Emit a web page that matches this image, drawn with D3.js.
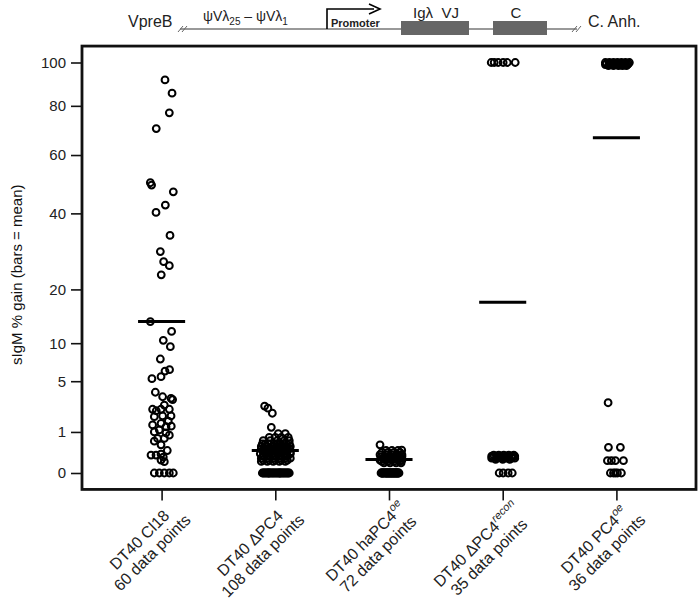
<!DOCTYPE html>
<html><head><meta charset="utf-8">
<script src="https://cdn.jsdelivr.net/npm/d3@7"></script>
<style>
body{margin:0;background:#fff}
svg{display:block;font-family:"Liberation Sans",Arial,sans-serif}
</style>
</head><body>
<svg id="c" width="700" height="601"></svg>
<script>
// ---------- data ----------
const categories = [1, 2, 3, 4, 5];
const labelLine1 = [["DT40 Cl18", ""], ["DT40 \u0394PC4", ""], ["DT40 haPC4", "oe"], ["DT40 \u0394PC4", "recon"], ["DT40 PC4", "oe"]];
const labelLine2 = ["60 data points", "108 data points", "72 data points", "35 data points", "36 data points"];
const yTicks = [0, 1, 5, 10, 20, 40, 60, 80, 100];
const means = [13.6, 0.3, 0.11, 17.3, 66.7];

// [value, horizontal jitter in category units]
const cl18 = [[91.7,0.030],[85.6,0.092],[77,0.068],[70.4,-0.047],[50,-0.099],[49.2,-0.088],[46.9,0.103],[42.6,0.033],[40.3,-0.049],[33.5,0.074],[29.1,-0.011],[26.5,0.018],[25.5,0.068],[23.3,-0.003],[13.6,-0.099],[11.9,0.088],[10.45,0.015],[9.47,0.077],[7.71,-0.011],[6.33,0.070],[6.17,0.030],[5.51,-0.005],[5.28,-0.085],[3.87,-0.055],[3.45,0.009],[3.31,0.083],[3.2,0.097],[2.74,0.024],[2.41,-0.079],[2.41,-0.005],[2.41,0.068],[2.3,-0.047],[1.93,0.009],[1.93,0.083],[1.88,-0.064],[1.6,0.059],[1.46,-0.005],[1.37,-0.079],[1.3,0.085],[1.27,0.039],[1.10,-0.020],[1.0,-0.064],[0.96,0.039],[0.85,0.068],[0.71,-0.035],[0.71,0.024],[0.6,-0.064],[0.47,-0.005],[0.3,0.050],[0.21,-0.005],[0.19,-0.093],[0.19,-0.049],[0.15,0.015],[0.10,-0.005],[0.076,0.024],[0,-0.064],[0,-0.020],[0,0.024],[0,0.068],[0,0.103]];

const dPC4 = [[2.66,-0.094],[2.49,-0.065],[2.12,-0.026],[1.24,-0.035],
[0.92,0.026],[0.92,0.088],
[0.75,-0.053],[0.75,0],[0.75,0.053],[0.75,0.114],
[0.62,-0.106],[0.62,-0.044],[0.62,0.018],[0.62,0.079],[0.62,0.123],
[0.5,-0.114],[0.5,-0.062],[0.5,-0.009],[0.5,0.044],[0.5,0.097],[0.5,-0.088],[0.5,0.018],[0.5,0.123],
[0.42,-0.088],[0.42,-0.026],[0.42,0.035],[0.42,0.088],[0.42,0.132],[0.42,-0.123],[0.42,0.009],[0.42,0.062],
[0.35,-0.123],[0.35,-0.070],[0.35,-0.018],[0.35,0.035],[0.35,0.079],[0.35,0.123],[0.35,-0.097],[0.35,0.009],[0.35,0.106],
[0.3,-0.114],[0.3,-0.035],[0.3,0.053],
[0.28,-0.106],[0.28,-0.053],[0.28,0],[0.28,0.053],[0.28,0.106],
[0.25,-0.079],[0.25,0.026],[0.25,0.132],
[0.22,-0.132],[0.22,-0.079],[0.22,-0.026],[0.22,0.026],[0.22,0.079],[0.22,0.132],
[0.17,-0.106],[0.17,-0.053],[0.17,0],[0.17,0.053],[0.17,0.106],
[0.13,-0.123],[0.13,-0.070],[0.13,-0.018],[0.13,0.035],[0.13,0.088],[0.13,0.132],
[0.1,-0.106],[0.1,-0.053],[0.1,0],[0.1,0.053],[0.1,0.106],
[0.08,-0.123],[0.08,-0.070],[0.08,-0.018],[0.08,0.035],[0.08,0.088],
[0,-0.114],[0,-0.106],[0,-0.097],[0,-0.088],[0,-0.079],[0,-0.070],[0,-0.062],[0,-0.053],[0,-0.044],[0,-0.035],[0,-0.026],[0,-0.018],[0,-0.009],[0,0],[0,0.009],[0,0.018],[0,0.026],[0,0.035],[0,0.044],[0,0.053],[0,0.062],[0,0.070],[0,0.079],[0,0.088],[0,0.097],[0,0.106],[0,0.114],[0,0.123],[0,-0.057],[0,0.040]];

const haPC4oe = [[0.47,-0.079],[0.31,0.112],
[0.3,-0.026],[0.3,0.026],[0.3,0.079],
[0.25,-0.062],[0.25,-0.009],[0.25,0.044],[0.25,0.097],
[0.2,-0.079],[0.2,-0.026],[0.2,0.026],[0.2,0.070],[0.2,0.114],
[0.16,-0.070],[0.16,-0.018],[0.16,0.035],[0.16,0.088],[0.16,0.114],
[0.13,-0.053],[0.13,0],[0.13,0.053],[0.13,0.106],
[0.1,-0.079],[0.1,-0.026],[0.1,0.026],[0.1,0.079],[0.1,0.114],
[0.08,-0.062],[0.08,-0.009],[0.08,0.044],[0.08,0.097],
[0.06,-0.044],[0.06,0.009],[0.06,0.062],[0.06,0.106],
[0,-0.070],[0,-0.062],[0,-0.053],[0,-0.044],[0,-0.035],[0,-0.026],[0,-0.018],[0,-0.009],[0,0],[0,0.009],[0,0.018],[0,0.026],[0,0.035],[0,0.044],[0,0.053],[0,0.062],[0,0.070],[0,0.079],[0,0.088],
[0,-0.066],[0,-0.048],[0,-0.031],[0,-0.013],[0,0.004],[0,0.022],[0,0.040],[0,0.057],[0,0.075],[0,0.084],[0,-0.057],[0,-0.022],[0,0.013],[0,0.048],[0,0.066],[0,0.031],[0,-0.004]];

const dPC4recon = [[100,-0.101],[100,-0.075],[100,-0.040],[100,0.004],[100,0.040],[100,0.110],
[0.19,-0.079],[0.19,-0.035],[0.19,0.009],[0.19,0.053],[0.19,0.097],
[0.17,-0.097],[0.17,-0.053],[0.17,-0.009],[0.17,0.035],[0.17,0.079],[0.17,0.106],
[0.15,-0.088],[0.15,-0.044],[0.15,0],[0.15,0.044],[0.15,0.088],
[0.13,-0.097],[0.13,-0.053],[0.13,-0.009],[0.13,0.035],[0.13,0.079],[0.13,0.106],
[0.11,-0.062],[0.11,0],[0.11,0.062],
[0,-0.031],[0,0.004],[0,0.048],[0,0.084]];

const PC4oe = [[100,-0.097],[100,-0.062],[100,-0.026],[100,0.009],[100,0.044],[100,0.079],[100,0.114],
[99.5,-0.088],[99.5,-0.044],[99.5,0],[99.5,0.035],[99.5,0.070],[99.5,0.106],
[99,-0.097],[99,-0.053],[99,-0.018],[99,0.026],[99,0.062],[99,0.097],
[98.5,-0.070],[98.5,-0.026],[98.5,0.018],[98.5,0.053],[98.5,0.088],
[2.93,-0.073],[0.39,-0.070],[0.39,0.035],
[0.09,-0.079],[0.09,-0.009],[0.09,0.062],[0.09,-0.044],
[0,-0.053],[0,-0.026],[0,0.009],[0,0.044],[0,-0.009]];

const groups = [cl18, dPC4, haPC4oe, dPC4recon, PC4oe];

// ---------- drawing ----------
const svg = d3.select("#c");
const plotLeft = 82, plotRight = 696;
const x = d3.scaleLinear().domain([0.3, 5.7]).range([plotLeft, plotRight]);
const y = d3.scaleSqrt().domain([0, 100]).range([473, 62.5]);
const span = y(0) - y(100);
const plotTop = y(100) - 0.04 * span, plotBottom = y(0) + 0.04 * span;
const ink = "#111";

// points
groups.forEach((g, i) => {
  svg.append("g").selectAll("circle").data(g).join("circle")
    .attr("cx", d => x(categories[i] + d[1]))
    .attr("cy", d => y(d[0]))
    .attr("r", 3.4)
    .attr("fill", "none")
    .attr("stroke", "#000")
    .attr("stroke-width", 2);
});

// mean bars
svg.append("g").selectAll("line").data(means).join("line")
  .attr("x1", (d, i) => x(categories[i] - 0.207))
  .attr("x2", (d, i) => x(categories[i] + 0.207))
  .attr("y1", d => y(d)).attr("y2", d => y(d))
  .attr("stroke", "#000").attr("stroke-width", 3);

// frame
svg.append("rect").attr("x", plotLeft).attr("y", plotTop)
  .attr("width", plotRight - plotLeft).attr("height", plotBottom - plotTop)
  .attr("fill", "none").attr("stroke", ink).attr("stroke-width", 2.8);

// y axis
const ya = svg.append("g").attr("transform", `translate(${plotLeft},0)`)
  .call(d3.axisLeft(y).tickValues(yTicks).tickSize(11).tickPadding(5).tickFormat(d3.format("d")));
ya.select(".domain").remove();
ya.selectAll(".tick line").attr("stroke", ink).attr("stroke-width", 1.6);
ya.selectAll(".tick text").attr("font-size", 15).attr("fill", "#222")
  .attr("font-family", "'Liberation Sans',Arial,sans-serif");

// x axis
const xa = svg.append("g").attr("transform", `translate(0,${plotBottom})`)
  .call(d3.axisBottom(x).tickValues(categories).tickSize(11).tickFormat(""));
xa.select(".domain").remove();
xa.selectAll(".tick line").attr("stroke", ink).attr("stroke-width", 1.6);

// x labels (rotated, two lines, centred on each other)
categories.forEach((c, i) => {
  const g = svg.append("g")
    .attr("transform", `translate(${x(c) + 30},${521}) rotate(-45)`)
    .attr("font-size", 16).attr("fill", "#222");
  const t1 = g.append("text").attr("y", -18).attr("text-anchor", "middle");
  t1.append("tspan").text(labelLine1[i][0]);
  if (labelLine1[i][1]) {
    t1.append("tspan").attr("font-size", 11).attr("font-style", "italic")
      .attr("dy", -7).text(labelLine1[i][1]);
  }
  const t2 = g.append("text").attr("y", 0).attr("text-anchor", "middle").text(labelLine2[i]);
  const w = Math.max(t1.node().getComputedTextLength(), t2.node().getComputedTextLength());
  t1.attr("x", -w / 2); t2.attr("x", -w / 2);
});

// y title
svg.append("text")
  .attr("transform", `translate(22,${(plotTop + plotBottom) / 2 + 7}) rotate(-90)`)
  .attr("text-anchor", "middle").attr("font-size", 15).attr("fill", "#111")
  .text("sIgM % gain (bars = mean)");

// ---------- gene diagram ----------
const dg = svg.append("g").attr("fill", "#222");
const lineY = 29;
dg.append("line").attr("x1", 180).attr("x2", 577).attr("y1", lineY).attr("y2", lineY)
  .attr("stroke", "#777").attr("stroke-width", 1.3);
[178, 572].forEach(hx => {
  [0, 4].forEach(o => dg.append("line")
    .attr("x1", hx + o).attr("y1", lineY + 3).attr("x2", hx + o + 5).attr("y2", lineY - 3)
    .attr("stroke", "#666").attr("stroke-width", 1));
});
dg.append("text").attr("x", 128).attr("y", 27).attr("font-size", 16).text("VpreB");
dg.append("text").attr("x", 588).attr("y", 27).attr("font-size", 16).text("C. Anh.");
const psi = dg.append("text").attr("x", 203).attr("y", 21).attr("font-size", 14);
psi.append("tspan").text("\u03C8V\u03BB");
psi.append("tspan").attr("font-size", 10).attr("dy", 4).text("25");
psi.append("tspan").attr("dy", -4).text(" \u2013 \u03C8V\u03BB");
psi.append("tspan").attr("font-size", 10).attr("dy", 4).text("1");
// promoter arrow
dg.append("path").attr("d", `M327,${lineY} V9 H374`).attr("fill", "none")
  .attr("stroke", "#000").attr("stroke-width", 1.6);
dg.append("path").attr("d", "M369,4 L380,9 L369,14").attr("fill", "none")
  .attr("stroke", "#000").attr("stroke-width", 1.6);
dg.append("text").attr("x", 331).attr("y", 27).attr("font-size", 11)
  .attr("font-weight", "bold").text("Promoter");
// boxes
dg.append("rect").attr("x", 401).attr("y", 21).attr("width", 68).attr("height", 14).attr("fill", "#666");
dg.append("rect").attr("x", 493).attr("y", 21).attr("width", 54).attr("height", 14).attr("fill", "#666");
dg.append("text").attr("x", 436).attr("y", 18).attr("font-size", 15).attr("text-anchor", "middle")
  .attr("xml:space", "preserve").text("Ig\u03BB  VJ");
dg.append("text").attr("x", 516).attr("y", 18).attr("font-size", 15).attr("text-anchor", "middle").text("C");
</script>
</body></html>
